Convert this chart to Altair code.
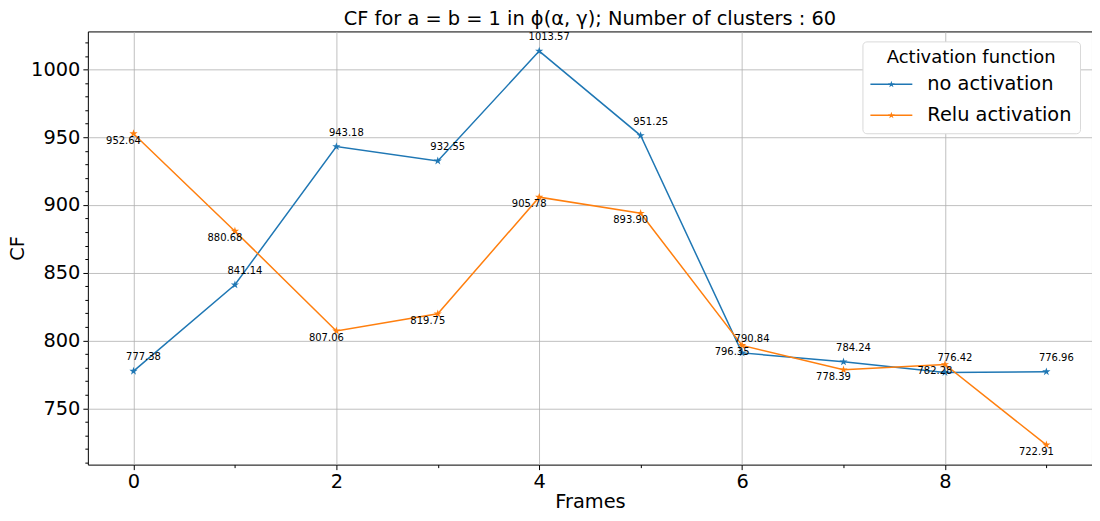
import altair as alt
import pandas as pd

frames = list(range(10))
no_activation = [777.38, 841.14, 943.18, 932.55, 1013.57, 951.25, 790.84, 784.24, 776.42, 776.96]
relu_activation = [952.64, 880.68, 807.06, 819.75, 905.78, 893.90, 796.35, 778.39, 782.28, 722.91]
series_names = ["no activation", "Relu activation"]
series_colors = ["#1f77b4", "#ff7f0e"]
x_ticks = [i * 0.5 for i in range(0, 19)]
y_ticks = list(range(710, 1030, 10))

rows = []
for name, vals in zip(series_names, [no_activation, relu_activation]):
    for f, v in zip(frames, vals):
        rows.append({"frame": f, "cf": v, "series": name, "line_series": name, "label": f"{v:.2f}"})
df = pd.DataFrame(rows)

STAR = ("M0,-1L0.2245,-0.309L0.9511,-0.309L0.3633,0.118L0.5878,0.809L0,0.382"
        "L-0.5878,0.809L-0.3633,0.118L-0.9511,-0.309L-0.2245,-0.309Z")
s = 0.17
pts = [(0, -1), (0.2245, -0.309), (0.9511, -0.309), (0.3633, 0.118), (0.5878, 0.809),
       (0, 0.382), (-0.5878, 0.809), (-0.3633, 0.118), (-0.9511, -0.309), (-0.2245, -0.309)]
LEG = "M-1,-0.035L1,-0.035L1,0.035L-1,0.035Z" + "M" + "L".join(f"{x*s:.4f},{y*s:.4f}" for x, y in pts) + "Z"

FONT = "DejaVu Sans"
FS = 19.4

x_scale = alt.Scale(domain=[-0.45, 9.45], nice=False, zero=False)
y_scale = alt.Scale(domain=[708.38, 1028.1], nice=False, zero=False)
color_scale = alt.Scale(domain=series_names, range=series_colors)

x_axis = alt.Axis(
    values=x_ticks, title="Frames", format="d",
    labelExpr="datum.value % 2 === 0 ? datum.label : ''",
    tickSize={"condition": {"test": "datum.value % 2 === 0", "value": 5}, "value": 3},
    gridOpacity={"condition": {"test": "datum.value % 2 === 0", "value": 1}, "value": 0},
    labelFontSize=FS, titleFontSize=FS, labelPadding=3, titlePadding=2,
    labelOverlap=False, domain=False, titleFontWeight="normal",
)
y_axis = alt.Axis(
    values=y_ticks, title="CF", format="d",
    labelExpr="datum.value % 50 === 0 ? datum.label : ''",
    tickSize={"condition": {"test": "datum.value % 50 === 0", "value": 5}, "value": 3},
    gridOpacity={"condition": {"test": "datum.value % 50 === 0", "value": 1}, "value": 0},
    labelFontSize=FS, titleFontSize=FS, labelPadding=3, titlePadding=3,
    labelOverlap=False, domain=False, titleFontWeight="normal",
)

base = alt.Chart(df).encode(
    x=alt.X("frame:Q", scale=x_scale, axis=x_axis),
    y=alt.Y("cf:Q", scale=y_scale, axis=y_axis),
)

# the stroke legend is kept as a separate, fully transparent legend
lines = base.mark_line(strokeWidth=1.5).encode(
    stroke=alt.Stroke("line_series:N", scale=color_scale,
                      legend=alt.Legend(title="lines", orient="bottom-left",
                                        symbolOpacity=0, labelOpacity=0, titleOpacity=0))
)
points = base.mark_point(shape=STAR, filled=True, size=75, opacity=1).encode(
    color=alt.Color(
        "series:N", scale=color_scale,
        legend=alt.Legend(
            title="Activation function", orient="none", legendX=776, legendY=10,
            symbolType=LEG, symbolSize=1764, symbolStrokeWidth=0,
            fillColor="white", strokeColor="#d9d9d9", cornerRadius=4, padding=8,
            titleFontSize=18, labelFontSize=FS, titleFontWeight="normal",
            titleAnchor="middle", titleAlign="center", labelOffset=15,
            rowPadding=-1, titlePadding=-4, labelFont=FONT, titleFont=FONT,
            labelColor="black", titleColor="black",
        ),
    )
)

text_blue = base.transform_filter(alt.datum.series == series_names[0]).mark_text(
    dx=10, dy=-14, fontSize=10, font=FONT, color="black", baseline="middle"
).encode(text="label:N")
text_orange = base.transform_filter(alt.datum.series == series_names[1]).mark_text(
    dx=-10, dy=7, fontSize=10, font=FONT, color="black", baseline="middle"
).encode(text="label:N")

chart = alt.layer(lines, points, text_blue, text_orange).properties(
    width=1006, height=434,
    title=alt.TitleParams(
        "CF for a = b = 1 in ϕ(α, γ); Number of clusters : 60",
        fontSize=FS, font=FONT, fontWeight="normal", anchor="middle", frame="group",
        offset=2, color="black",
    ),
    autosize=alt.AutoSizeParams(type="none"),
    padding={"left": 80, "top": 23, "right": 0, "bottom": 50},
    background="white",
).configure_view(stroke="black", strokeWidth=1).configure_axis(
    labelFont=FONT, titleFont=FONT, labelColor="black", titleColor="black",
    titleFontWeight="normal", tickColor="black", gridColor="#b0b0b0", gridWidth=0.8,
)

chart.save("out.html", embed_options={"renderer": "svg", "actions": False})
